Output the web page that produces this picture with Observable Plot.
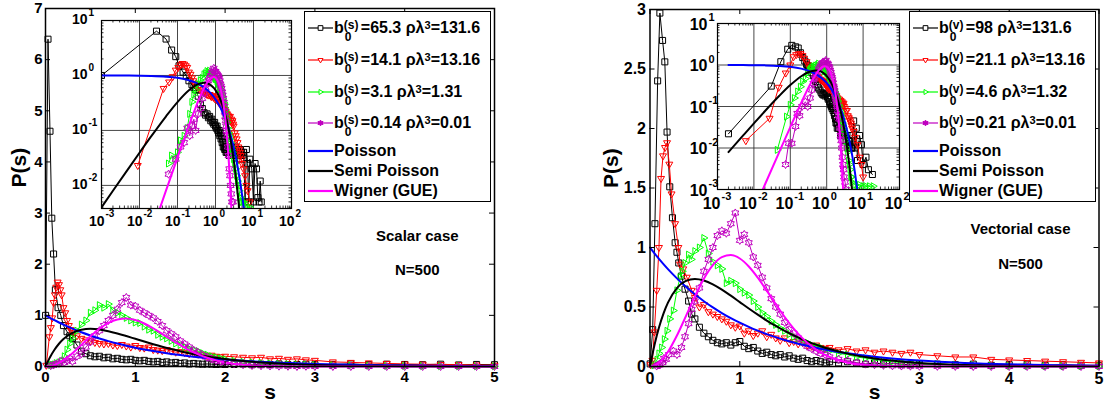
<!DOCTYPE html>
<html>
<head>
<meta charset="utf-8">
<script src="https://cdn.jsdelivr.net/npm/d3@7"></script>
<script src="https://cdn.jsdelivr.net/npm/@observablehq/plot@0.6"></script>
<style>
body{margin:0;background:#fff}
#root{position:relative;width:1104px;height:412px;overflow:hidden;background:#fff;font-family:"Liberation Sans",Arial,Helvetica,sans-serif;font-weight:bold;color:#000}
.legend{position:absolute;background:#fff;border:1.5px solid #000;box-sizing:border-box}
.row{position:absolute;white-space:nowrap;font-size:16px;line-height:20px}
.ss{display:inline-block;position:relative;width:17px;height:0}
.ss .up{position:absolute;left:0;bottom:2px;font-size:12px;line-height:12px}
.ss .dn{position:absolute;left:1px;top:-2px;font-size:12px;line-height:12px}
.sup3{font-size:11px;position:relative;top:-4px}
.sw{position:absolute}
</style>
</head>
<body>
<div id="root"></div>
<script>
// ================= DATA =================
// shared s grids for the histogram bodies
const gridL = [0.30,0.35,0.40,0.45,0.50,0.55,0.60,0.65,0.70,0.75,0.80,0.85,0.90,0.95,1.00,1.05,1.10,1.15,1.20,1.25,1.30,1.35,1.40,1.45,1.50,1.55,1.60,1.65,1.70,1.75,1.80,1.85,1.90,1.95,2.00,2.1,2.2,2.3,2.4,2.5,2.6,2.7,2.8,2.9,3.0,3.2,3.4,3.6,3.8,4.0,4.2,4.4,4.6,4.8,5.0];
const gridR = [0.50,0.55,0.60,0.65,0.70,0.75,0.80,0.85,0.90,0.95,1.00,1.05,1.10,1.15,1.20,1.25,1.30,1.35,1.40,1.45,1.50,1.55,1.60,1.65,1.70,1.75,1.80,1.85,1.90,1.95,2.00,2.1,2.2,2.3,2.4,2.5,2.6,2.7,2.8,2.9,3.0,3.2,3.4,3.6,3.8,4.0,4.2,4.4,4.6,4.8,5.0];

// ---- Scalar case (left) ----
const lkHeadS = [0.001,0.028,0.05,0.07,0.09,0.11,0.14,0.17,0.2,0.24,0.27];
const lkHeadP = [1.0,6.4,4.6,2.9,2.2,1.5,1.15,1.0,0.8,0.68,0.6];
const lkBodyP = [0.55,0.42,0.3,0.25,0.21,0.19,0.2,0.17,0.18,0.15,0.16,0.14,0.13,0.14,0.12,0.11,0.12,0.1,0.09,0.1,0.08,0.09,0.07,0.08,0.06,0.07,0.05,0.06,0.05,0.045,0.05,0.045,0.04,0.045,0.04,
  0.04,0.05,0.035,0.045,0.04,0.05,0.035,0.04,0.045,0.035,
  0.04,0.05,0.035,0.045,0.04,0.035,0.045,0.03,0.04,0.035];
const lkTailS = [5.5,6,6.5,7,7.5,8,9,10,11,12,13,14,15,16];
const lkTailP = [0.04,0.005,0.045,0.025,0.005,0.03,0.02,0.005,0.025,0.02,0.006,0.005,0.012,0.005];

const lrHeadS = [0.009,0.043,0.06,0.075,0.09,0.105,0.12,0.135,0.15,0.165,0.18,0.2,0.22,0.24,0.26,0.28];
const lrHeadP = [0.023,0.58,0.76,0.95,1.25,1.4,1.55,1.65,1.6,1.5,1.4,1.15,1.05,0.9,0.8,0.72];
const lrBodyP = [0.67,0.6,0.55,0.52,0.5,0.47,0.45,0.44,0.45,0.42,0.41,0.43,0.4,0.38,0.41,0.37,0.36,0.38,0.33,0.32,0.31,0.33,0.3,0.28,0.29,0.27,0.25,0.26,0.24,0.23,0.21,0.22,0.2,0.19,0.2,
  0.19,0.18,0.17,0.18,0.15,0.16,0.14,0.15,0.13,0.12,
  0.09,0.08,0.07,0.06,0.05,0.045,0.04,0.035,0.03,0.025];
const lrTailS = [5.5,6,6.5,7,8];
const lrTailP = [0.02,0.015,0.01,0.008,0.005];

const lgHeadS = [0.058,0.07,0.085,0.1,0.12,0.15,0.18,0.21,0.24,0.27];
const lgHeadP = [0.025,0.035,0.03,0.04,0.066,0.08,0.11,0.2,0.33,0.45];
const lgBodyP = [0.55,0.7,0.82,0.9,1.05,1.1,1.2,1.15,1.22,1.1,1.05,1.0,0.95,0.9,0.86,0.85,0.78,0.72,0.7,0.62,0.58,0.55,0.5,0.45,0.42,0.38,0.35,0.32,0.3,0.26,0.23,0.2,0.18,0.16,0.14,
  0.11,0.09,0.08,0.07,0.06,0.05,0.045,0.04,0.035,0.03,
  0.025,0.02,0.015,0.012,0.01,0.008,0.006,0.006,0.005,0.005];
const lgTailS = [5.5,6.5,8];
const lgTailP = [0.005,0.004,0.004];

const lmHeadS = [0.058,0.09,0.12,0.15,0.18,0.21,0.24,0.27];
const lmHeadP = [0.016,0.03,0.05,0.06,0.11,0.08,0.12,0.16];
const lmBodyP = [0.1,0.2,0.25,0.38,0.48,0.6,0.7,0.8,0.9,1.0,1.12,1.25,1.35,1.2,1.18,1.1,1.05,1.0,0.95,0.88,0.8,0.7,0.64,0.58,0.5,0.44,0.38,0.32,0.27,0.22,0.18,0.15,0.12,0.1,0.08,
  0.05,0.035,0.02,0.015,0.01,0.007,0.005,0,0.005,0,
  0,0,0,0,0,0,0,0,0,0];
const lmTailS = [];
const lmTailP = [];

// ---- Vectorial case (right) ----
const rkHeadS = [0.002,0.03,0.055,0.085,0.11,0.14,0.165,0.19,0.22,0.25,0.28,0.3,0.32,0.35,0.39,0.43,0.465];
const rkHeadP = [0.022,0.31,1.2,2.4,2.97,2.74,2.56,1.97,1.51,1.25,1.04,0.96,0.87,0.76,0.65,0.55,0.44];
const rkBodyP = [0.4,0.33,0.28,0.25,0.22,0.2,0.19,0.2,0.18,0.2,0.21,0.17,0.15,0.16,0.13,0.11,0.12,0.1,0.09,0.1,0.08,0.09,0.07,0.06,0.07,0.05,0.04,0.05,0.04,0.03,0.04,
  0.03,0.04,0.03,0.02,0.03,0.02,0.025,0.02,0.015,0.02,
  0.02,0.015,0.02,0.01,0.015,0.02,0.01,0.015,0.01,0.01];
const rkTailS = [5.5,6,6.5,7,8,9,10,12,14,18];
const rkTailP = [0.045,0.01,0.03,0.005,0.02,0.012,0.004,0.006,0.003,0.0023];

const rrHeadS = [0.006,0.027,0.048,0.075,0.1,0.123,0.145,0.167,0.19,0.215,0.24,0.28,0.316,0.335,0.37,0.41,0.465];
const rrHeadP = [0.015,0.052,0.29,0.64,1.0,1.58,1.77,1.84,1.88,1.70,1.45,1.2,1.0,0.86,0.82,0.75,0.64];
const rrBodyP = [0.58,0.5,0.52,0.46,0.44,0.42,0.4,0.38,0.35,0.33,0.34,0.28,0.3,0.26,0.28,0.3,0.25,0.27,0.24,0.22,0.24,0.2,0.21,0.19,0.2,0.18,0.17,0.18,0.16,0.15,0.16,
  0.14,0.15,0.13,0.14,0.12,0.13,0.12,0.11,0.12,0.1,
  0.09,0.08,0.08,0.06,0.055,0.05,0.045,0.04,0.035,0.03];
const rrTailS = [5.5,6,7,8,9,10];
const rrTailP = [0.025,0.018,0.012,0.006,0.004,0.002];

const rgHeadS = [0.044,0.079,0.1,0.13,0.16,0.19,0.22,0.26,0.3,0.335,0.36,0.39,0.43,0.46];
const rgHeadP = [0.009,0.057,0.11,0.16,0.23,0.3,0.4,0.47,0.64,0.75,0.8,0.87,0.94,0.9];
const rgBodyP = [0.97,1.0,1.08,0.95,0.88,0.85,0.82,0.7,0.72,0.7,0.65,0.62,0.6,0.55,0.5,0.45,0.42,0.38,0.35,0.32,0.3,0.27,0.25,0.23,0.21,0.2,0.18,0.17,0.16,0.14,0.13,
  0.11,0.1,0.08,0.07,0.06,0.05,0.04,0.035,0.03,0.025,
  0.02,0.015,0.01,0.008,0.005,0.004,0.003,0.002,0.002,0.0015];
const rgTailS = [6,7,8,10,12,15,19];
const rgTailP = [0.0013,0.0012,0.0013,0.0012,0.0012,0.0012,0.0012];

const rmHeadS = [0.074,0.09,0.11,0.14,0.155,0.18,0.21,0.26,0.3,0.35,0.39,0.43,0.465];
const rmHeadP = [0.004,0.013,0.013,0.033,0.068,0.06,0.1,0.13,0.1,0.16,0.25,0.36,0.48];
const rmBodyP = [0.55,0.66,0.8,0.9,1.0,1.1,1.14,1.12,1.2,1.29,1.06,1.11,1.04,0.92,0.85,0.75,0.66,0.57,0.5,0.44,0.37,0.31,0.28,0.24,0.2,0.17,0.15,0.13,0.11,0.1,0.08,
  0.06,0.05,0.03,0.02,0.015,0.01,0.006,0.004,0.003,0.002,
  0.0015,0.001,0,0,0,0,0,0,0,0];
const rmTailS = [];
const rmTailP = [];

// ---- theoretical curves (main panels) ----
const thS = [0,0.05,0.1,0.15,0.2,0.3,0.4,0.5,0.6,0.7,0.8,0.9,1.0,1.1,1.2,1.3,1.4,1.5,1.6,1.7,1.8,1.9,2.0,2.2,2.5,3.0,3.5,4.0,4.5,5.0];
const poissonP = [1,0.9512,0.9048,0.8607,0.8187,0.7408,0.6703,0.6065,0.5488,0.4966,0.4493,0.4066,0.3679,0.3329,0.3012,0.2725,0.2466,0.2231,0.2019,0.1827,0.1653,0.1496,0.1353,0.1108,0.0821,0.0498,0.0302,0.0183,0.0111,0.0067];
const semiP = [0,0.1810,0.3275,0.4445,0.5363,0.6586,0.7189,0.7358,0.7229,0.6905,0.6461,0.5951,0.5413,0.4875,0.4355,0.3862,0.3405,0.2987,0.2609,0.2269,0.1967,0.1700,0.1465,0.1080,0.0674,0.0297,0.0128,0.0054,0.0022,0.0009];
const wignerP = [0,0.0081,0.0320,0.0709,0.1233,0.2602,0.4232,0.5896,0.7380,0.8514,0.9187,0.9364,0.9076,0.8405,0.7465,0.6371,0.5240,0.4158,0.3187,0.2364,0.1698,0.1181,0.0796,0.0331,0.0071,0.0003,0,0,0,0];

// ---- theoretical curves (log insets) ----
const thLogS = [0.001,0.002,0.005,0.01,0.02,0.05,0.1,0.2,0.3,0.4,0.5,0.6,0.7,0.8,0.9,1,1.2,1.5,2,2.5,3,4,5,6,7];
const poissonLog = [0.999,0.998,0.995,0.990,0.980,0.951,0.905,0.819,0.741,0.670,0.607,0.549,0.497,0.449,0.407,0.368,0.301,0.223,0.135,0.0821,0.0498,0.0183,0.00674,0.00248,0.000912];
const semiLog = [0.00399,0.00798,0.0198,0.0392,0.0769,0.181,0.3275,0.5363,0.6586,0.7189,0.7358,0.7229,0.6905,0.6461,0.5951,0.5413,0.4355,0.2987,0.1465,0.0674,0.0297,0.00537,0.000908,0.000147,0.0000233];
const wignerLog = [0.00000324,0.000013,0.000081,0.000324,0.0013,0.0081,0.032,0.1233,0.2602,0.4232,0.5896,0.738,0.8514,0.9187,0.9364,0.9076,0.7465,0.4158,0.0796,0.0071,0.0003,0.00000007,1e-12,1e-16,1e-20];

// ---- ticks & labels ----
const xTicksMain = [0,1,2,3,4,5];
const xTickLabelsMain = ["0","1","2","3","4","5"];
const yTicksL = [0,1,2,3,4,5,6,7];
const yTickLabelsL = ["0","1","2","3","4","5","6","7"];
const yTicksR = [0,0.5,1,1.5,2,2.5,3];
const yTickLabelsR = ["0","0.5","1","1.5","2","2.5","3"];
const insetXTicks = [1e-3,1e-2,1e-1,1,10,100];
const insetXExp = ["-3","-2","-1","0","1","2"];
const insetGridX = [1e-2,1e-1,1,10];
const insetYTicksL = [1e-2,1e-1,1,10];
const insetYExpL = ["-2","-1","0","1"];
const insetYTicksR = [1e-3,1e-2,1e-1,1,10];
const insetYExpR = ["-3","-2","-1","0","1"];
const insetGridY = [1e-2,1e-1,1];

// ---- legend texts ----
const legendB0L = ["65.3","14.1","3.1","0.14"];
const legendRhoL = ["131.6","13.16","1.31","0.01"];
const legendB0R = ["98","21.1","4.6","0.21"];
const legendRhoR = ["131.6","13.16","1.32","0.01"];
const theoryNames = ["Poisson","Semi Poisson","Wigner (GUE)"];

// ================= RENDER =================
const FONT = '"Liberation Sans", Arial, Helvetica, sans-serif';
const root = document.getElementById("root");

const symTriDown = {draw(c, size){const r=Math.sqrt(size/Math.PI)*1.3; c.moveTo(0,r); c.lineTo(-0.866*r,-0.5*r); c.lineTo(0.866*r,-0.5*r); c.closePath();}};
const symTriRight = {draw(c, size){const r=Math.sqrt(size/Math.PI)*1.3; c.moveTo(r,0); c.lineTo(-0.5*r,-0.866*r); c.lineTo(-0.5*r,0.866*r); c.closePath();}};
const symHex = {draw(c, size){const R=Math.sqrt(size/Math.PI)*1.3, q=R*0.58; for(let k=0;k<12;k++){const a=-Math.PI/2+k*Math.PI/6, rr=(k%2)?q:R, x=rr*Math.cos(a), y=rr*Math.sin(a); if(k) c.lineTo(x,y); else c.moveTo(x,y);} c.closePath();}};

const styles = [
  {color:"#000000", symbol:"square", r:3.4},
  {color:"#FF0000", symbol:symTriDown, r:3.1},
  {color:"#00FF00", symbol:symTriRight, r:3.1},
  {color:"#BF00BF", symbol:symHex, r:3.1}
];

const rows = (s, p) => s.map((v, i) => ({s: v, p: p[i]}));
const build = (hs, hp, grid, bp, ts, tp) => rows([...hs, ...grid, ...ts], [...hp, ...bp, ...tp]);

const seriesL = [
  build(lkHeadS, lkHeadP, gridL, lkBodyP, lkTailS, lkTailP),
  build(lrHeadS, lrHeadP, gridL, lrBodyP, lrTailS, lrTailP),
  build(lgHeadS, lgHeadP, gridL, lgBodyP, lgTailS, lgTailP),
  build(lmHeadS, lmHeadP, gridL, lmBodyP, lmTailS, lmTailP)
];
const seriesR = [
  build(rkHeadS, rkHeadP, gridR, rkBodyP, rkTailS, rkTailP),
  build(rrHeadS, rrHeadP, gridR, rrBodyP, rrTailS, rrTailP),
  build(rgHeadS, rgHeadP, gridR, rgBodyP, rgTailS, rgTailP),
  build(rmHeadS, rmHeadP, gridR, rmBodyP, rmTailS, rmTailP)
];
const theoryMain = [rows(thS, poissonP), rows(thS, semiP), rows(thS, wignerP)];
const theoryLog = [rows(thLogS, poissonLog), rows(thLogS, semiLog), rows(thLogS, wignerLog)];
const theoryColors = ["#0000FF", "#000000", "#FF00FF"];

function place(node, left, top) {
  const w = document.createElement("div");
  w.style.position = "absolute"; w.style.left = left + "px"; w.style.top = top + "px";
  w.appendChild(node); root.appendChild(w);
}

const baseStyle = {fontFamily: FONT, fontWeight: "bold", fontSize: "15px", color: "#000", background: "transparent", overflow: "visible", maxWidth: "none"};

function mainChart(o) {
  const H = 412, fw = o.width - o.ml - o.mr, fh = H - o.mt - o.mb;
  const marks = [];
  o.series.forEach((d, i) => {
    const st = styles[i], data = d.filter(e => e.s <= 5);
    marks.push(Plot.line(data, {x: "s", y: "p", stroke: st.color, strokeWidth: 1}));
    marks.push(Plot.dot(data, {x: "s", y: "p", symbol: st.symbol, r: st.r, stroke: st.color, fill: "none", strokeWidth: 1}));
  });
  theoryMain.forEach((d, i) => marks.push(Plot.line(d, {x: "s", y: "p", stroke: theoryColors[i], strokeWidth: 2, curve: "monotone-x"})));
  marks.push(
    Plot.frame({stroke: "#000", strokeWidth: 1.5}),
    Plot.ruleX(xTicksMain, {x: d => d, insetTop: fh - 5, stroke: "#000"}),
    Plot.ruleX(xTicksMain, {x: d => d, insetBottom: fh - 5, stroke: "#000"}),
    Plot.ruleY(o.yTicks, {y: d => d, insetRight: fw - 5, stroke: "#000"}),
    Plot.ruleY(o.yTicks, {y: d => d, insetLeft: fw - 5, stroke: "#000"}),
    Plot.axisX({ticks: xTicksMain, tickFormat: d => xTickLabelsMain[xTicksMain.indexOf(d)], tickSize: 0, tickPadding: o.xPad, label: null, fontSize: o.fs}),
    Plot.axisY({ticks: o.yTicks, tickFormat: d => o.yLabels[o.yTicks.indexOf(d)], tickSize: 0, tickPadding: o.yPad, label: null, fontSize: o.fs}),
    Plot.text(["P(s)"], {text: d => d, frameAnchor: "left", rotate: -90, dx: o.ylDx, fontSize: 21}),
    Plot.text(["s"], {text: d => d, frameAnchor: "bottom", dy: 32, fontSize: 21}),
    Plot.text(o.notes, {x: "s", y: "p", text: "t", fontSize: 15})
  );
  return Plot.plot({
    width: o.width, height: H, marginLeft: o.ml, marginRight: o.mr, marginTop: o.mt, marginBottom: o.mb,
    x: {type: "linear", domain: [0, 5]}, y: {type: "linear", domain: [0, o.yMax]},
    style: baseStyle, marks
  });
}

function insetChart(o) {
  const fw = o.width - o.ml - o.mr, fh = o.height - o.mt - o.mb;
  const minorX = [], minorY = [];
  for (let k = -3; k <= 1; k++) for (let m = 2; m <= 9; m++) minorX.push(m * Math.pow(10, k));
  for (let k = -3; k <= 0; k++) for (let m = 2; m <= 9; m++) { const v = m * Math.pow(10, k); if (v > o.yMin) minorY.push(v); }
  const marks = [
    Plot.frame({fill: "#fff", stroke: "none"}),
    Plot.ruleX(insetGridX, {x: d => d, stroke: "#333", strokeWidth: 0.9}),
    Plot.ruleY(insetGridY, {y: d => d, stroke: "#333", strokeWidth: 0.9}),
    Plot.ruleX(minorX, {x: d => d, insetTop: fh - 2.5, stroke: "#000", strokeWidth: 0.8}),
    Plot.ruleX(minorX, {x: d => d, insetBottom: fh - 2.5, stroke: "#000", strokeWidth: 0.8}),
    Plot.ruleY(minorY, {y: d => d, insetRight: fw - 2.5, stroke: "#000", strokeWidth: 0.8}),
    Plot.ruleY(minorY, {y: d => d, insetLeft: fw - 2.5, stroke: "#000", strokeWidth: 0.8})
  ];
  o.series.forEach((d, i) => {
    const st = styles[i], data = d.filter(e => e.p > 0);
    marks.push(Plot.line(data, {x: "s", y: "p", stroke: st.color, strokeWidth: 1, clip: true}));
    marks.push(Plot.dot(data, {x: "s", y: "p", symbol: st.symbol, r: st.r, stroke: st.color, fill: "none", strokeWidth: 1, clip: true}));
  });
  theoryLog.forEach((d, i) => marks.push(Plot.line(d.filter(e => e.s >= o.thMin), {x: "s", y: "p", stroke: theoryColors[i], strokeWidth: 2, curve: "monotone-x", clip: true})));
  marks.push(
    Plot.frame({stroke: "#000", strokeWidth: 1.2}),
    Plot.text(insetXTicks, {x: d => d, frameAnchor: "bottom", dy: o.xBaseDy, dx: 3, textAnchor: "end", text: () => "10", fontSize: o.fs}),
    Plot.text(insetXTicks, {x: d => d, frameAnchor: "bottom", dy: o.xBaseDy - 9, dx: 4, textAnchor: "start", text: (d, i) => insetXExp[i], fontSize: o.efs}),
    Plot.text(o.yTicks, {y: d => d, frameAnchor: "left", dx: o.yBaseDx, dy: o.yBaseDy, textAnchor: "end", text: () => "10", fontSize: o.fs}),
    Plot.text(o.yTicks, {y: d => d, frameAnchor: "left", dx: o.yBaseDx + 1, dy: o.yBaseDy - 7, textAnchor: "start", text: (d, i) => o.yExp[i], fontSize: o.efs})
  );
  return Plot.plot({
    width: o.width, height: o.height, marginLeft: o.ml, marginRight: o.mr, marginTop: o.mt, marginBottom: o.mb,
    x: {type: "log", domain: [1e-3, 1e2], axis: null}, y: {type: "log", domain: [o.yMin, 10], axis: null},
    style: baseStyle, marks
  });
}

function legend(left, tag, b0, rho) {
  const box = document.createElement("div");
  box.className = "legend";
  Object.assign(box.style, {left: left + "px", top: "11px", width: "187px", height: "191px"});
  const lineY = [15.5, 47.5, 79.5, 110.5, 138.5, 159, 178.5];
  for (let i = 0; i < 7; i++) {
    const y = lineY[i];
    const sw = d3.create("svg").attr("class", "sw").attr("width", 30).attr("height", 12)
      .style("left", "1px").style("top", (y - 6) + "px");
    if (i < 4) {
      const st = styles[i];
      sw.append("line").attr("x1", 2).attr("x2", 27).attr("y1", 6).attr("y2", 6).attr("stroke", st.color).attr("stroke-width", 1.2);
      const symb = st.symbol === "square" ? d3.symbolSquare : st.symbol;
      const size = i === 0 ? 22 : 16;
      sw.append("path").attr("transform", "translate(14.5,6)").attr("d", d3.symbol(symb, size)())
        .attr("fill", i === 3 ? st.color : "#fff").attr("stroke", st.color).attr("stroke-width", 1);
    } else {
      sw.append("line").attr("x1", 2).attr("x2", 27).attr("y1", 6).attr("y2", 6).attr("stroke", theoryColors[i - 4]).attr("stroke-width", 2.2);
    }
    box.appendChild(sw.node());
    const row = document.createElement("div");
    row.className = "row";
    row.style.left = "29px"; row.style.top = (y - 10) + "px";
    if (i < 4) {
      row.innerHTML = `b<span class="ss"><span class="up">(${tag})</span><span class="dn">0</span></span>=${b0[i]} ρλ<span class="sup3">3</span>=${rho[i]}`;
    } else {
      row.textContent = theoryNames[i - 4];
    }
    box.appendChild(row);
  }
  root.appendChild(box);
}

// Left main (scalar case)
place(mainChart({
  width: 520, ml: 45, mr: 26, mt: 8, mb: 46, yMax: 7, yTicks: yTicksL, yLabels: yTickLabelsL,
  fs: 15, xPad: 5, yPad: 3, ylDx: -26, series: seriesL,
  notes: [{t: "Scalar case", s: 4.14, p: 2.54}, {t: "N=500", s: 4.14, p: 1.88}]
}), 0, 0);

// Right main (vectorial case)
place(mainChart({
  width: 544, ml: 89.5, mr: 5.5, mt: 9, mb: 46, yMax: 3, yTicks: yTicksR, yLabels: yTickLabelsR,
  fs: 16, xPad: 6, yPad: 4, ylDx: -39, series: seriesR,
  notes: [{t: "Vectorial case", s: 4.126, p: 1.151}, {t: "N=500", s: 4.126, p: 0.861}]
}), 560, 0);

// Left inset
place(insetChart({
  width: 250, height: 240, ml: 41, mr: 19, mt: 20, mb: 32, yMin: 0.0038,
  yTicks: insetYTicksL, yExp: insetYExpL, fs: 14, efs: 10, xBaseDy: 17,
  yBaseDx: -14, yBaseDy: -1, thMin: 0.001, series: seriesL
}), 60, 0);

// Right inset
place(insetChart({
  width: 250, height: 225, ml: 42, mr: 26, mt: 23, mb: 36, yMin: 0.001,
  yTicks: insetYTicksR, yExp: insetYExpR, fs: 16, efs: 11, xBaseDy: 19,
  yBaseDx: -10, yBaseDy: 1, thMin: 0.002, series: seriesR
}), 675, 0);

legend(304, "s", legendB0L, legendRhoL);
legend(909, "v", legendB0R, legendRhoR);
</script>
</body>
</html>
